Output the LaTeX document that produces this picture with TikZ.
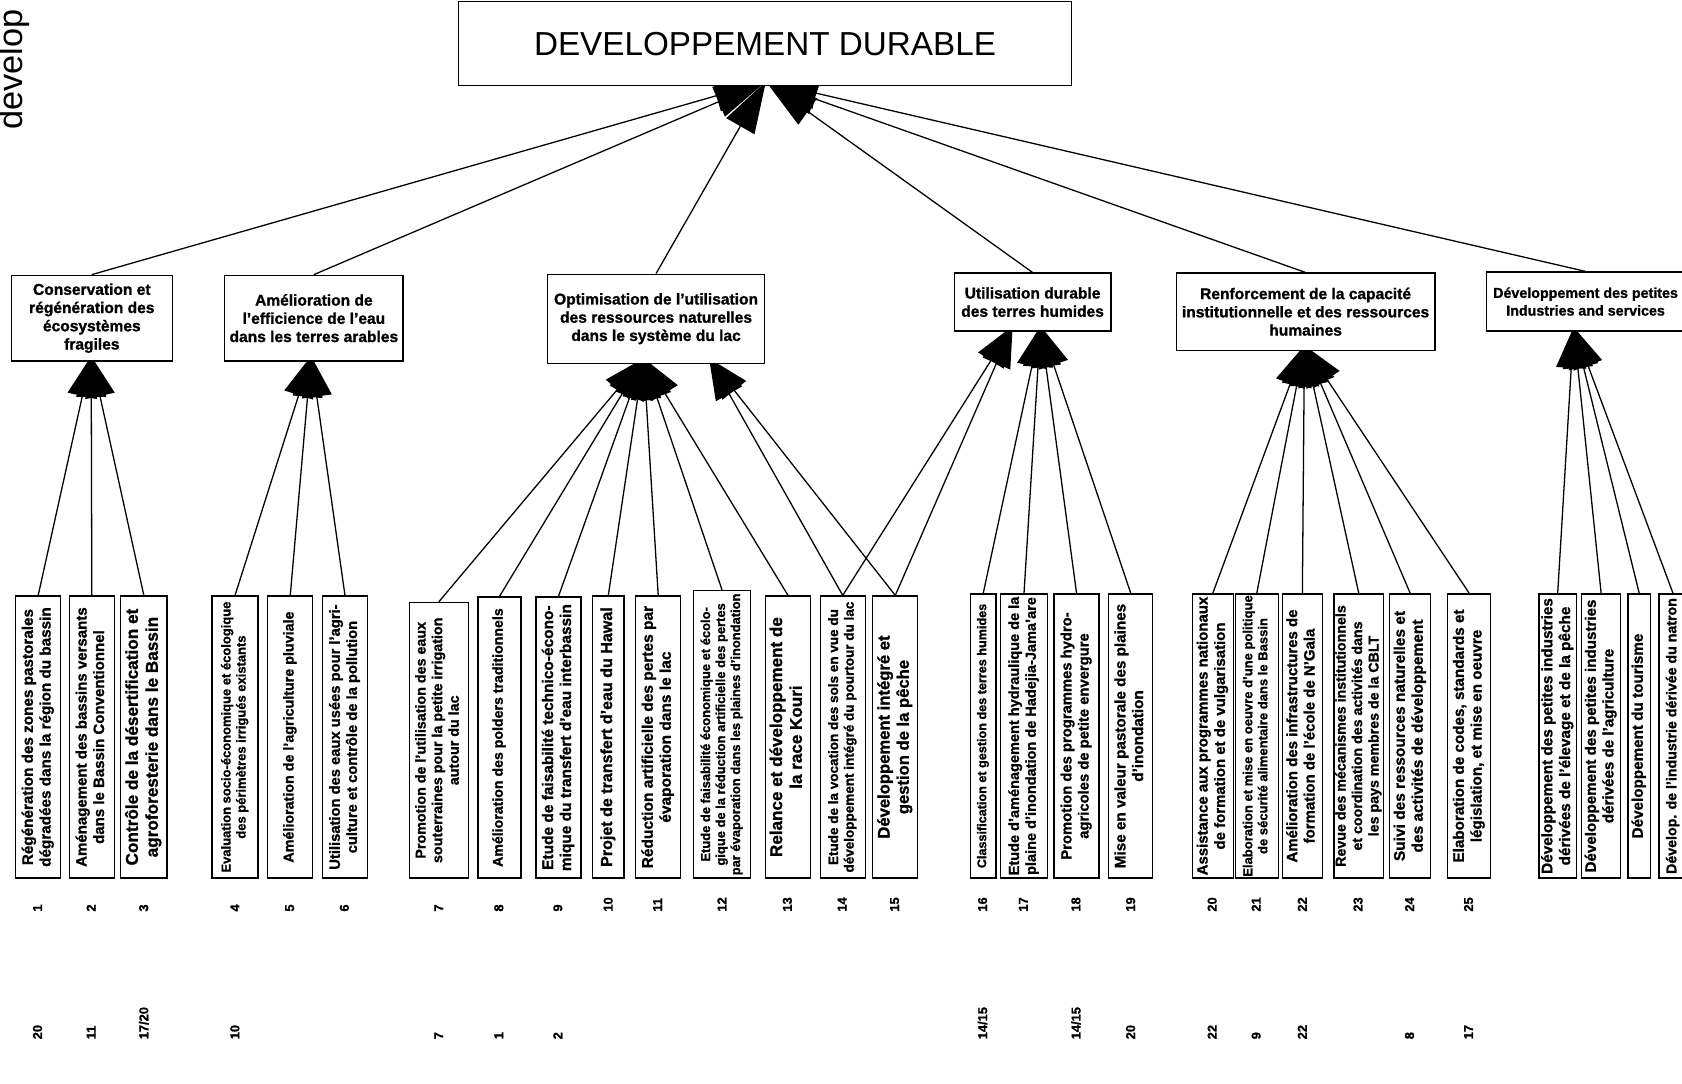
\documentclass[tikz,border=0pt]{standalone}
\usepackage{fontspec}
\setmainfont{Liberation Sans}[BoldFeatures={FakeBold=1.2}]
\usetikzlibrary{arrows.meta,backgrounds}

\tikzset{
  box/.style={draw, line width=1.2pt, fill=white, inner sep=0pt, align=center, anchor=north west,
    font=\bfseries\fontsize{14.5}{17}\selectfont},
  titlebox/.style={draw, line width=1.3pt, fill=white, inner sep=0pt, anchor=north west,
    font=\fontsize{31}{36}\selectfont},
  leafbox/.style={draw, line width=1.2pt, fill=white, inner sep=0pt, anchor=north west},
  conn/.style={line width=1.2pt},
  bighead/.style={-{Triangle[length=48pt,width=30pt]}},
  head/.style={-{Triangle[length=38pt,width=28pt]}},
  numlab/.style={rotate=90, anchor=west, inner sep=0pt, font=\bfseries\fontsize{12}{14}\selectfont},
}

\newcommand\leafnode[6]{%
  \pgfmathsetmacro\leaflen{#5*(818-#4)}%
  \node[leafbox, minimum width={(#3-#2)*1pt}, minimum height={(818-#4)*1pt}] (#1) at (#2,#4)
    {\rotatebox{90}{\resizebox{\leaflen pt}{!}{\bfseries\fontsize{10}{11.6}\selectfont\begin{tabular}{@{}c@{}}#6\end{tabular}}}};%
}
\newcommand\numa[3]{\node[numlab] (#1) at (#2,850) {#3};}
\newcommand\numb[3]{\node[numlab] (#1) at (#2,969) {#3};}

\begin{document}
\begin{tikzpicture}[x=1pt,y=-1pt]
\useasboundingbox (0,0) rectangle (1568,1010);

% cut-off page title at the left edge
\node[rotate=90, anchor=base west, inner sep=0pt, font=\fontsize{32}{36}\selectfont] (dev) at (21,121) {develop};

% top box
\node[titlebox, minimum width=571pt, minimum height=78pt] (top) at (427,1) {DEVELOPPEMENT DURABLE};

% level 2 boxes
\node[box, minimum width=150pt, minimum height=80pt] (A) at (10,256) {Conservation et\\régénération des\\écosystèmes\\fragiles};
\node[box, minimum width=166pt, minimum height=80pt] (B) at (209,256) {Amélioration de\\l'efficience de l'eau\\dans les terres arables};
\node[box, minimum width=202pt, minimum height=83pt] (C) at (510,255) {Optimisation de l'utilisation\\des ressources naturelles\\dans le système du lac};
\node[box, minimum width=146pt, minimum height=54pt] (D) at (889,254) {Utilisation durable\\des terres humides};
\node[box, minimum width=241pt, minimum height=72pt] (E) at (1096,254) {Renforcement de la capacité\\institutionnelle et des ressources\\humaines};
\node[box, minimum width=185pt, minimum height=55pt, font=\bfseries\fontsize{13.3}{16.5}\selectfont] (F) at (1385,253) {Développement des petites\\Industries and services};

% leaves
\leafnode{L1}{14}{56}{555}{.92}{Régénération des zones pastorales\\dégradées dans la région du bassin}
\leafnode{L2}{64}{106}{555}{.92}{Aménagement des bassins versants\\dans le Bassin Conventionnel}
\leafnode{L3}{112}{155}{555}{.91}{Contrôle de la désertification et\\agroforesterie dans le Bassin}
\leafnode{L4}{197}{240}{555}{.96}{Evaluation socio-économique et écologique\\des périmètres irrigués existants}
\leafnode{L5}{249}{291}{555}{.89}{Amélioration de l'agriculture pluviale}
\leafnode{L6}{300}{342}{555}{.94}{Utilisation des eaux usées pour l'agri-\\culture et contrôle de la pollution}
\leafnode{L7}{381}{436}{561}{.89}{Promotion de l'utilisation des eaux\\souterraines pour la petite irrigation\\autour du lac}
\leafnode{L8}{445}{485}{556}{.92}{Amélioration des polders traditionnels}
\leafnode{L9}{499}{541}{556}{.95}{Etude de faisabilité technico-écono-\\mique du transfert d'eau interbassin}
\leafnode{L10}{552}{581}{555}{.92}{Projet de transfert d'eau du Hawal}
\leafnode{L11}{592}{634}{555}{.93}{Réduction artificielle des pertes par\\évaporation dans le lac}
\leafnode{L12}{646}{699}{550}{.98}{Etude de faisabilité économique et écolo-\\gique de la réduction artificielle des pertes\\par évaporation dans les plaines d'inondation}
\leafnode{L13}{713}{755}{555}{.85}{Relance et développement de\\la race Kouri}
\leafnode{L14}{764}{806}{555}{.96}{Etude de la vocation des sols en vue du\\développement intégré du pourtour du lac}
\leafnode{L15}{813}{855}{555}{.72}{Développement intégré et\\gestion de la pêche}
\leafnode{L16}{904}{928}{553}{.93}{Classification et gestion des terres humides}
\leafnode{L17}{932}{976}{553}{.98}{Etude d'aménagement hydraulique de la\\plaine d'inondation de Hadejia-Jama'are}
\leafnode{L18}{982}{1024}{553}{.87}{Promotion des programmes hydro-\\agricoles de petite envergure}
\leafnode{L19}{1033}{1074}{553}{.93}{Mise en valeur pastorale des plaines\\d'inondation}
\leafnode{L20}{1111}{1149}{553}{.98}{Assistance aux programmes nationaux\\de formation et de vulgarisation}
\leafnode{L21}{1151}{1191}{553}{.99}{Elaboration et mise en oeuvre d'une politique\\de sécurité alimentaire dans le Bassin}
\leafnode{L22}{1195}{1232}{553}{.89}{Amélioration des infrastructures de\\formation de l'école de N'Gala}
\leafnode{L23}{1243}{1288}{553}{.92}{Revue des mécanismes institutionnels\\et coordination des activités dans\\les pays membres de la CBLT}
\leafnode{L24}{1295}{1333}{553}{.88}{Suivi des ressources naturelles et\\des activités de développement}
\leafnode{L25}{1349}{1389}{553}{.89}{Elaboration de codes, standards et\\législation, et mise en oeuvre}
\leafnode{L26}{1434}{1469}{553}{.97}{Développement des petites industries\\dérivées de l'élevage et de la pêche}
\leafnode{L27}{1474}{1510}{553}{.96}{Développement des petites industries\\dérivées de l'agriculture}
\leafnode{L28}{1517}{1538}{553}{.72}{Développement du tourisme}
\leafnode{L29}{1546}{1572}{553}{.97}{Dévelop. de l'industrie dérivée du natron}

% numbers, first row
\numa{n1}{35}{1}\numa{n2}{85}{2}\numa{n3}{134}{3}
\numa{n4}{219}{4}\numa{n5}{270}{5}\numa{n6}{321}{6}
\numa{n7}{409}{7}\numa{n8}{465}{8}\numa{n9}{520}{9}\numa{n10}{567}{10}
\numa{n11}{613}{11}\numa{n12}{673}{12}\numa{n13}{734}{13}\numa{n14}{785}{14}\numa{n15}{834}{15}
\numa{n16}{916}{16}\numa{n17}{954}{17}\numa{n18}{1003}{18}\numa{n19}{1054}{19}
\numa{n20}{1130}{20}\numa{n21}{1171}{21}\numa{n22}{1214}{22}\numa{n23}{1266}{23}\numa{n24}{1314}{24}\numa{n25}{1369}{25}

% numbers, second row
\numb{m1}{35}{20}\numb{m2}{85}{11}\numb{m3}{134}{17/20}\numb{m4}{219}{10}
\numb{m7}{409}{7}\numb{m8}{465}{1}\numb{m9}{520}{2}
\numb{m16}{916}{14/15}\numb{m18}{1003}{14/15}\numb{m19}{1054}{20}
\numb{m20}{1130}{22}\numb{m21}{1171}{9}\numb{m22}{1214}{22}\numb{m24}{1314}{8}\numb{m25}{1369}{17}

% arrow target points (just inside the boxes)
\coordinate (T) at (714,76);
\coordinate (tA) at (85,332);
\coordinate (tB) at (290,332);
\coordinate (tC1) at (600,334);
\coordinate (tC2) at (661,334);
\coordinate (tD1) at (944,304);
\coordinate (tD2) at (970,304);
\coordinate (tE) at (1216,322);
\coordinate (tF) at (1467,305);

\begin{scope}[on background layer]
  \foreach \n in {A,B,C,D,E,F} \draw[conn,bighead] (\n.north) -- (T);
  \foreach \n in {L1,L2,L3} \draw[conn,head] (\n.north) -- (tA);
  \foreach \n in {L4,L5,L6} \draw[conn,head] (\n.north) -- (tB);
  \foreach \n in {L7,L8,L9,L10,L11,L12,L13} \draw[conn,head] (\n.north) -- (tC1);
  \foreach \n in {L14,L15} \draw[conn,head] (\n.north) -- (tC2);
  \foreach \n in {L14,L15} \draw[conn,head] (\n.north) -- (tD1);
  \foreach \n in {L16,L17,L18,L19} \draw[conn,head] (\n.north) -- (tD2);
  \foreach \n in {L20,L21,L22,L23,L24,L25} \draw[conn,head] (\n.north) -- (tE);
  \foreach \n in {L26,L27,L28,L29} \draw[conn,head] (\n.north) -- (tF);
\end{scope}
\end{tikzpicture}
\end{document}
